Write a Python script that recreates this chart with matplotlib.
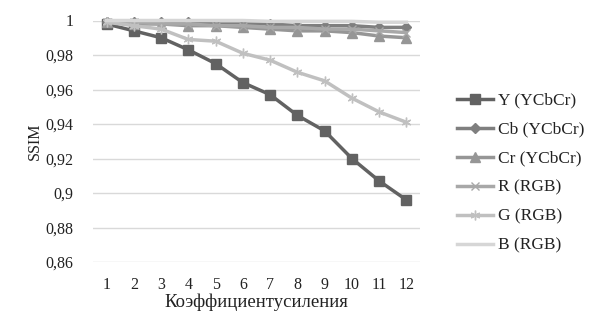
import matplotlib
matplotlib.use("Agg")
import matplotlib.pyplot as plt

x = list(range(1, 13))
series_names = ["Y (YCbCr)", "Cb (YCbCr)", "Cr (YCbCr)", "R (RGB)", "G (RGB)", "B (RGB)"]
y_Y  = [0.998, 0.994, 0.990, 0.983, 0.975, 0.964, 0.957, 0.945, 0.936, 0.920, 0.907, 0.896]
y_Cb = [0.999, 0.999, 0.999, 0.999, 0.998, 0.998, 0.998, 0.997, 0.997, 0.997, 0.996, 0.996]
y_Cr = [0.999, 0.998, 0.998, 0.997, 0.997, 0.996, 0.995, 0.994, 0.994, 0.993, 0.991, 0.990]
y_R  = [0.999, 0.999, 0.998, 0.998, 0.997, 0.997, 0.996, 0.996, 0.995, 0.995, 0.994, 0.993]
y_G  = [0.999, 0.997, 0.995, 0.989, 0.988, 0.981, 0.977, 0.970, 0.965, 0.955, 0.947, 0.941]
y_B  = [1.000, 1.000, 1.000, 1.000, 1.000, 1.000, 0.9995, 0.9995, 0.9995, 0.9995, 0.999, 0.999]
yticks = [0.86, 0.88, 0.90, 0.92, 0.94, 0.96, 0.98, 1.00]
ytick_labels = ["0,86", "0,88", "0,9", "0,92", "0,94", "0,96", "0,98", "1"]

plt.rcParams['font.family'] = ['Liberation Serif', 'DejaVu Serif']

fig = plt.figure(figsize=(5.96, 3.31), dpi=100)
ax = fig.add_axes([93/596, 1 - 262/331, (420-93)/596, (262-20.5)/331])

styles = [
    dict(color="#626262", marker="s", ms=7),
    dict(color="#7f7f7f", marker="D", ms=5),
    dict(color="#969696", marker="^", ms=7),
    dict(color="#a8a8a8", marker="x", ms=6, mew=1),
    dict(color="#c0c0c0", marker=(6, 2, 0), ms=7, mew=1),
    dict(color="#d6d6d6", marker=None),
]
data = [y_Y, y_Cb, y_Cr, y_R, y_G, y_B]
for name, ys, st in zip(series_names, data, styles):
    ax.plot(x, ys, lw=2.5, label=name, clip_on=False, zorder=3, **st)

ax.set_xlim(0.5, 12.5)
ax.set_ylim(0.86, 1.0)
ax.set_xticks(x)
ax.set_xticklabels([str(v) for v in x])
ax.set_yticks(yticks)
ax.set_yticklabels(ytick_labels)
ax.grid(axis='y', color="#d9d9d9", lw=1)
ax.set_axisbelow(True)
for s in ax.spines.values():
    s.set_visible(False)
ax.tick_params(length=0, labelsize=11.5, colors="#222222", pad=14)
ax.tick_params(axis='x', pad=11)
ax.set_ylabel("SSIM", fontsize=11.5, color="#222222", labelpad=2)
ax.set_xlabel("Коэффициентусиления", fontsize=13.5, color="#222222", labelpad=0)

leg = fig.legend(loc="upper left", bbox_to_anchor=(441/596, 1 - 77/331), frameon=False,
                 fontsize=12.5, handlelength=2.1, labelspacing=0.74, handletextpad=0.3)
for t in leg.get_texts():
    t.set_color("#222222")

fig.savefig("out.png", dpi=100)
